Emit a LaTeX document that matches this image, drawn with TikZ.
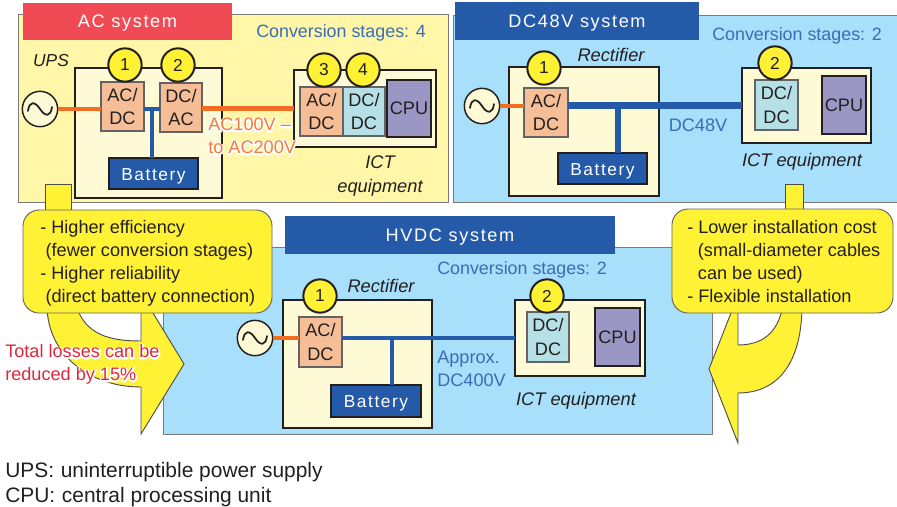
\documentclass[tikz,border=0pt]{standalone}
\usepackage{fontspec}
\setmainfont{Liberation Sans}
\newfontfamily\hdrfont[LetterSpace=9]{Liberation Sans}
\definecolor{panelY}{HTML}{FFF6A8}
\definecolor{panelB}{HTML}{A8DFFA}
\definecolor{innerY}{HTML}{FFFAD6}
\definecolor{boxO}{HTML}{F5BE96}
\definecolor{boxL}{HTML}{B5E0E6}
\definecolor{boxC}{HTML}{9B97C4}
\definecolor{navy}{HTML}{255AA8}
\definecolor{hdrR}{HTML}{F04A55}
\definecolor{yel}{HTML}{FFF235}
\definecolor{ora}{HTML}{F26E22}
\definecolor{txtB}{HTML}{3B6DB5}
\definecolor{txtO}{HTML}{F47A3A}
\definecolor{txtR}{HTML}{E0283C}
\definecolor{ink}{HTML}{231F20}
\newcommand{\halotext}[2]{\leavevmode\rlap{\special{pdf:code 2 Tr 2.2 w 1 1 1 RG 1 1 1 rg}\textcolor{white}{#2}\special{pdf:code 0 Tr}}\textcolor{#1}{#2}}
\tikzset{
  px/.style={x=0.75pt,y=-0.75pt},
  base/.style={inner sep=0pt,outer sep=0pt,text=ink,text depth=0pt,font=\fontsize{13.6}{17.6}\selectfont,align=left},
  panel/.style={base,draw=ink!60,line width=0.7pt},
  header/.style={base,text=white,font=\hdrfont\fontsize{13.6}{16}\selectfont,align=center},
  unit/.style={base,draw=ink,line width=1.4pt,fill=innerY},
  conv/.style={base,draw=ink!70,line width=0.8pt},
  cpu/.style={base,draw=ink,line width=1.4pt,fill=boxC,align=center},
  batt/.style={base,draw=ink,line width=1pt,fill=navy,text=white,font=\hdrfont\fontsize{13}{16}\selectfont,align=center},
  stage/.style={circle,draw=ink,line width=1.5pt,fill=yel,inner sep=0pt,minimum size=25pt,text=ink,font=\fontsize{13}{16}\selectfont},
  source/.style={circle,draw=ink,line width=1.1pt,fill=innerY,inner sep=0pt,minimum size=26.5pt},
  lbl/.style={inner sep=0pt,text=ink,text depth=0pt,font=\fontsize{13.6}{17.25}\selectfont,align=left},
  ital/.style={lbl,font=\itshape\fontsize{13.7}{18}\selectfont,align=center},
  blu/.style={lbl,text=txtB},
  acwire/.style={draw=ora,line width=3pt},
  dcwire/.style={draw=navy,line width=3pt},
  yshape/.style={draw=ink!80,line width=0.7pt,fill=yel},
  callout/.style={base,draw=ink!70,line width=0.7pt,fill=yel,rounded corners=12pt},
}
\newcommand{\plain}[7]{%
  \pgfmathsetmacro{\bw}{(#5-#3)*0.75}\pgfmathsetmacro{\bh}{(#6-#4)*0.75}%
  \node[#2,anchor=north west,minimum width=\bw pt,minimum height=\bh pt] (#1) at (#3,#4) {#7};}
\newcommand{\wave}[1]{\draw[ink,line width=1.3pt,line cap=round] ([shift={(-9pt,-1.5pt)}]#1.center) .. controls +(1pt,7.5pt) and +(-4pt,6pt) .. (#1.center) .. controls +(4pt,-6pt) and +(-1pt,-7.5pt) .. ([shift={(9pt,1.5pt)}]#1.center);}
\begin{document}
\begin{tikzpicture}[px]
\useasboundingbox (0,0) rectangle (897,507);
% ---------- AC system
\plain{acP}{panel,fill=panelY}{18}{14}{448}{202}{}
\plain{acH}{header,fill=hdrR}{23}{3}{232}{40}{AC system}
\node[blu,font=\fontsize{13.4}{16}\selectfont] (acS) at (341,31) {Conversion stages: 4};
\node[lbl,font=\itshape\fontsize{13}{16}\selectfont] (acU) at (51,60) {UPS};
\plain{upsB}{unit}{75}{68}{222}{198}{}
\plain{acIct}{unit}{294}{70}{436}{147}{}
\node[source] (acSrc) at (40,109) {};
\wave{acSrc}
\plain{acC1}{conv,fill=boxO,align=center}{101}{82}{144}{131}{AC/\\DC}
\plain{acC2}{conv,fill=boxO,align=center}{160}{83}{202}{132}{DC/\\AC}
\plain{acBat}{batt}{109}{158}{198}{189}{\raisebox{-2pt}{Battery}}
\plain{acC3}{conv,fill=boxO,align=center}{300}{87}{343}{136}{AC/\\DC}
\plain{acC4}{conv,fill=boxL,align=center}{343}{87}{385}{136}{DC/\\DC}
\plain{acCpu}{cpu}{387}{80}{431}{137}{CPU}
\draw[acwire] (acSrc.east) -- (acC1.west |- acSrc.east);
\draw[dcwire] (acC1.east |- 0,108.5) -- (acC2.west |- 0,108.5);
\coordinate (acJ) at (152,108.5);
\draw[dcwire] (acJ) -- (acJ |- acBat.north);
\draw[draw=ora,line width=4pt] (acC2.east |- 0,108.5) -- (acIct.west |- 0,108.5);
\node[stage] (acN1) at (125,65) {1};
\node[stage] (acN2) at (178,65) {2};
\node[stage] (acN3) at (324,70) {3};
\node[stage] (acN4) at (363,70) {4};
\node[lbl,anchor=north west] (acV) at (208,118) {\halotext{txtO}{AC100V –}\\\halotext{txtO}{to AC200V}};
\node[ital] (acIe) at (380,174) {ICT\\equipment};
% ---------- DC48V system
\plain{dcP}{panel,fill=panelB}{453}{15}{897}{202}{}
\plain{dcH}{header,fill=navy}{455}{2}{699}{40}{DC48V system}
\node[blu,font=\fontsize{13.4}{16}\selectfont] (dcS) at (797,34) {Conversion stages: 2};
\node[ital] (dcR) at (611,55) {Rectifier};
\plain{dcB}{unit}{509}{67}{659}{196}{}
\plain{dcIct}{unit}{742}{68}{871}{143}{}
\node[source] (dcSrc) at (482,106) {};
\wave{dcSrc}
\plain{dcC1}{conv,fill=boxO,align=center}{524}{88}{568}{137}{AC/\\DC}
\plain{dcBat}{batt}{558}{153}{647}{184}{\raisebox{-1.5pt}{Battery}}
\plain{dcC2}{conv,fill=boxL,align=center}{755}{80}{798}{130}{DC/\\DC}
\plain{dcCpu}{cpu}{822}{76}{866}{134}{CPU}
\draw[draw=ora,line width=2.6pt] (dcSrc.east) -- (dcC1.west |- dcSrc.east);
\draw[draw=navy,line width=4.6pt] (dcC1.east |- 0,105.5) -- (dcIct.west |- 0,105.5);
\coordinate (dcJ) at (618,105.5);
\draw[draw=navy,line width=4.6pt] (dcJ) -- (dcJ |- dcBat.north);
\node[stage] (dcN1) at (544,68) {1};
\node[stage] (dcN2) at (775,63) {2};
\node[blu] (dcV) at (698,125) {DC48V};
\node[ital] (dcIe) at (802,160) {ICT equipment};
% ---------- HVDC system
\plain{hvP}{panel,fill=panelB}{163}{247}{712}{434}{}
\plain{hvH}{header,fill=navy}{285}{216}{615}{254}{HVDC system}
\node[blu,font=\fontsize{13.4}{16}\selectfont] (hvS) at (522,268) {Conversion stages: 2};
\node[ital] (hvR) at (381,286) {Rectifier};
\plain{hvB}{unit}{283}{300}{432}{428}{}
\plain{hvIct}{unit}{515}{300}{645}{376}{}
\node[source] (hvSrc) at (255,338) {};
\wave{hvSrc}
\plain{hvC1}{conv,fill=boxO,align=center}{299}{317}{342}{367}{AC/\\DC}
\plain{hvBat}{batt}{331}{385}{421}{417}{\raisebox{-1pt}{Battery}}
\plain{hvC2}{conv,fill=boxL,align=center}{527}{312}{569}{362}{DC/\\DC}
\plain{hvCpu}{cpu}{595}{308}{640}{366}{CPU}
\draw[draw=ora,line width=2.6pt] (hvSrc.east) -- (hvC1.west |- hvSrc.east);
\draw[dcwire] (hvC1.east |- 0,338) -- (hvIct.west |- 0,338);
\coordinate (hvJ) at (392,338);
\draw[dcwire] (hvJ) -- (hvJ |- hvBat.north);
\node[stage] (hvN1) at (320,296) {1};
\node[stage] (hvN2) at (547,296) {2};
\node[blu,anchor=north west] (hvV) at (437,351) {Approx.\\DC400V};
\node[ital] (hvIe) at (576,399) {ICT equipment};
% ---------- yellow arrows and callouts
\plain{stubL}{yshape}{45}{184}{71}{215}{}
\plain{stubR}{yshape}{785}{184}{803}{215}{}
\draw[yshape] (47,305) .. controls (47,355) and (90,387) .. (141,387) -- (141,434) -- (184,364) -- (153,313) -- (141,305) -- (141,341) .. controls (110,341) and (85,335) .. (76,305) -- cycle;
\draw[yshape] (802,305) .. controls (802,360) and (780,393) .. (738,393) -- (738,443) -- (709,369) -- (731,313) -- (738,305) -- (738,345) .. controls (760,345) and (778,335) .. (783,305) -- cycle;
\plain{callL}{callout}{23}{210}{272}{313}{}
\plain{callR}{callout}{672}{209}{893}{313}{}
\node[lbl,anchor=north west] (callLt) at (40,220) {- Higher efficiency\\\hspace*{4pt}(fewer conversion stages)\\- Higher reliability\\\hspace*{4pt}(direct battery connection)};
\node[lbl,anchor=north west] (callRt) at (687,220) {- Lower installation cost\\\hspace*{8pt}(small-diameter cables\\\hspace*{8pt}can be used)\\- Flexible installation};
\node[lbl,anchor=north west] (loss) at (5,344.5) {\halotext{txtR}{Total losses can be}\\\halotext{txtR}{reduced by 15\%}};
% ---------- footnote
\node[lbl,anchor=west,font=\fontsize{15.7}{18}\selectfont] (fn1) at (5,470) {UPS:\hspace{5pt}uninterruptible power supply};
\node[lbl,anchor=west,font=\fontsize{15.7}{18}\selectfont] (fn2) at (5,495) {CPU:\hspace{5pt}central processing unit};
\end{tikzpicture}
\end{document}
